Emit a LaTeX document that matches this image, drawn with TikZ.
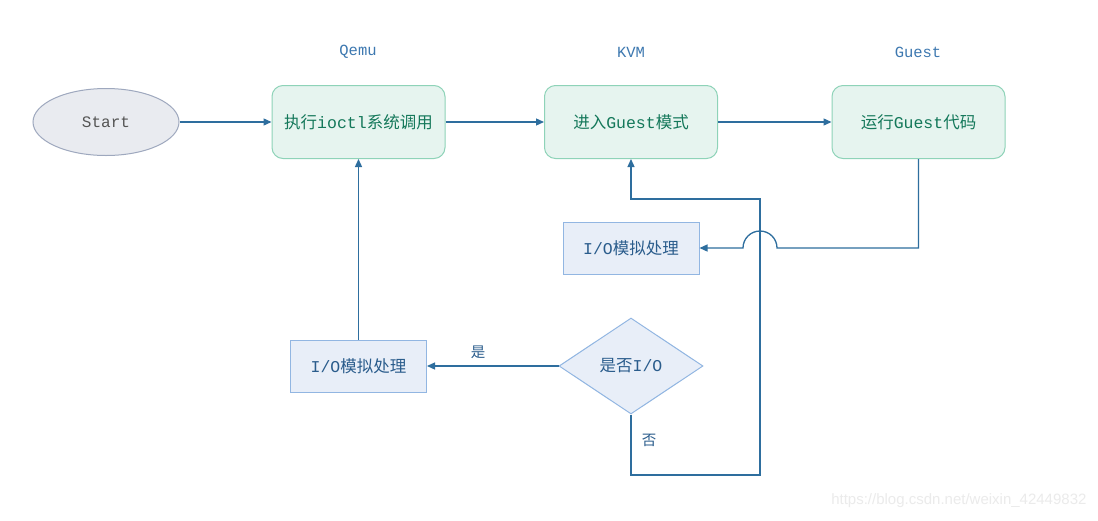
\documentclass[tikz,border=0pt]{standalone}
\usepackage{fontspec}
\setmainfont{Liberation Mono}
\newfontfamily\cjk{Noto Sans CJK SC}
\newfontfamily\wmfont{Liberation Sans}
\usetikzlibrary{shapes.geometric,arrows.meta}
\definecolor{linec}{HTML}{2E6E9E}
\definecolor{greenb}{HTML}{8ED3B8}
\definecolor{greenf}{HTML}{E6F4EF}
\definecolor{greent}{HTML}{14785A}
\definecolor{blueb}{HTML}{92B6E2}
\definecolor{bluef}{HTML}{E8EEF8}
\definecolor{bluet}{HTML}{2A5C8C}
\definecolor{startb}{HTML}{9EA8BE}
\definecolor{startf}{HTML}{E9EBF0}
\definecolor{startt}{HTML}{555555}
\definecolor{lanec}{HTML}{3D78B0}
\definecolor{wmc}{HTML}{EBEBEB}
\begin{document}
\begin{tikzpicture}[x=1pt,y=1pt,
  arr/.style={draw=linec, line width=1.3pt, -{Triangle[length=8pt,width=7pt]}},
  greenbox/.style={draw=greenb, fill=greenf, rounded corners=11pt, minimum width=173pt, minimum height=73pt, text=greent, font=\fontsize{16.5}{19}\selectfont, line width=1pt},
  bluebox/.style={draw=blueb, fill=bluef, minimum width=136pt, minimum height=52pt, text=bluet, font=\fontsize{16.5}{19}\selectfont, line width=1pt},
  dia/.style={diamond, draw=blueb, fill=bluef, minimum width=144pt, minimum height=96pt, inner sep=0pt, aspect=1.5, text=bluet, font=\fontsize{16.5}{19}\selectfont, line width=1pt},
  lane/.style={text=lanec, font=\fontsize{15.5}{18}\selectfont},
  lbl/.style={text=bluet, font=\fontsize{14.5}{16}\selectfont\cjk},
  wm/.style={text=wmc, font=\fontsize{15}{18}\selectfont\wmfont}]
\useasboundingbox (0,0) rectangle (1098,-520);
\fill[white] (0,0) rectangle (1098,-520);

\node[ellipse, draw=startb, fill=startf, minimum width=146pt, minimum height=67pt, text=startt, font=\fontsize{16}{18}\selectfont, line width=1pt] (start) at (106,-122) {Start};
\node[lane] (lq) at (358,-52) {Qemu};
\node[lane] (lk) at (631,-52) {KVM};
\node[lane] (lg) at (918,-52) {Guest};
\node[greenbox] (b1) at (358.5,-122) {{\cjk 执行}ioctl{\cjk 系统调用}};
\node[greenbox] (b2) at (631,-122) {{\cjk 进入}Guest{\cjk 模式}};
\node[greenbox] (b3) at (918.5,-122) {{\cjk 运行}Guest{\cjk 代码}};
\node[bluebox] (io1) at (631,-248) {I/O{\cjk 模拟处理}};
\node[bluebox] (io2) at (358.5,-366) {I/O{\cjk 模拟处理}};
\node[dia] (d) at (631,-366) {{\cjk 是否}I/O};
\node[lbl] (yes) at (478,-352) {是};
\node[lbl] (no) at (649,-440) {否};
\node[wm, anchor=east] (w) at (1090,-501) {https://blog.csdn.net/weixin\_42449832};

\coordinate (j1) at (777,-248);
\coordinate (n1) at (760,-475);
\coordinate (n2) at (760,-199);

\draw[arr] (start) -- (b1);
\draw[arr] (b1) -- (b2);
\draw[arr] (b2) -- (b3);
\draw[arr] (b3.south) |- (j1) arc[start angle=0, end angle=180, radius=17] -- (io1.east);
\draw[arr] (d.west) -- (io2.east);
\draw[arr] (io2.north) -- (b1.south);
\draw[arr] (d.south) |- (n1) -- (n2) -| (b2.south);
\end{tikzpicture}
\end{document}
